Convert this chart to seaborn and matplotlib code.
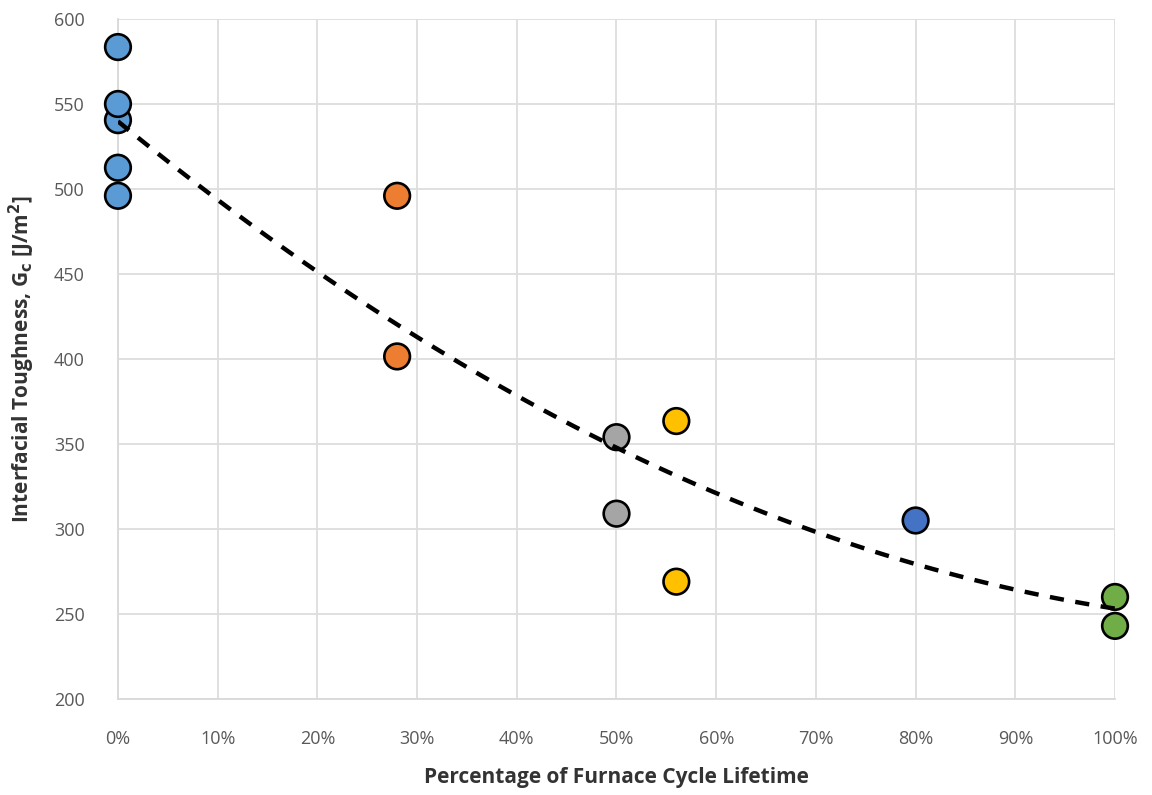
import numpy as np
import pandas as pd
import matplotlib
matplotlib.use("Agg")
import matplotlib.pyplot as plt
import seaborn as sns
from matplotlib.ticker import PercentFormatter, MultipleLocator

# Measured interfacial toughness grouped by furnace cycle lifetime fraction
lifetime = [0.0, 0.0, 0.0, 0.0, 0.0,
            0.28, 0.28,
            0.50, 0.50,
            0.56, 0.56,
            0.80,
            1.00, 1.00]
toughness = [583.5, 540.5, 550.0, 496.0, 512.5,
             496.0, 401.5,
             354.0, 309.0,
             363.5, 269.0,
             305.0,
             243.0, 260.0]
group = ["A"] * 5 + ["B"] * 2 + ["C"] * 2 + ["D"] * 2 + ["E"] + ["F"] * 2
group_colors = {"A": "#5B9BD5", "B": "#ED7D31", "C": "#A5A5A5",
                "D": "#FFC000", "E": "#4472C4", "F": "#70AD47"}

df = pd.DataFrame({"lifetime": lifetime, "toughness": toughness, "group": group})

sns.set_style("white")
plt.rcParams["font.family"] = ["Open Sans", "DejaVu Sans"]

fig = plt.figure(figsize=(11.52, 7.95), dpi=100)
ax = fig.add_axes([0.1024, 0.1208, 0.8655, 0.8553])

sns.scatterplot(data=df, x="lifetime", y="toughness", hue="group",
                palette=group_colors, s=340, edgecolor="black", linewidth=1.9,
                legend=False, ax=ax, zorder=3, clip_on=False)

# Second-order trendline through all measurements, drawn over the markers
sns.regplot(data=df, x="lifetime", y="toughness", order=2, ci=None,
            scatter=False, truncate=True, ax=ax,
            line_kws=dict(color="black", lw=3.2, ls=(0, (3.2, 2.6)), zorder=4))

ax.set_xlim(0, 1.0)
ax.set_ylim(200, 600)
ax.xaxis.set_major_locator(MultipleLocator(0.1))
ax.yaxis.set_major_locator(MultipleLocator(50))
ax.xaxis.set_major_formatter(PercentFormatter(1.0, decimals=0))

ax.grid(True, color="#DDDDDD", lw=1.3)
ax.set_axisbelow(True)
for side in ["top", "right"]:
    ax.spines[side].set_visible(False)
for side in ["left", "bottom"]:
    ax.spines[side].set_color("#D9D9D9")
    ax.spines[side].set_linewidth(1.3)

ax.tick_params(axis="both", length=0, labelsize=13, labelcolor="#595959")
ax.tick_params(axis="y", pad=24)
ax.tick_params(axis="x", pad=22)

ax.set_xlabel("Percentage of Furnace Cycle Lifetime", fontsize=15,
              fontweight="bold", color="#333333", labelpad=14)
ax.set_ylabel(r"Interfacial Toughness, G$_\mathbf{c}$ [J/m$^\mathbf{2}$]", fontsize=15,
              fontweight="bold", color="#333333", labelpad=12)

fig.savefig("out.png", dpi=100, facecolor="white")
